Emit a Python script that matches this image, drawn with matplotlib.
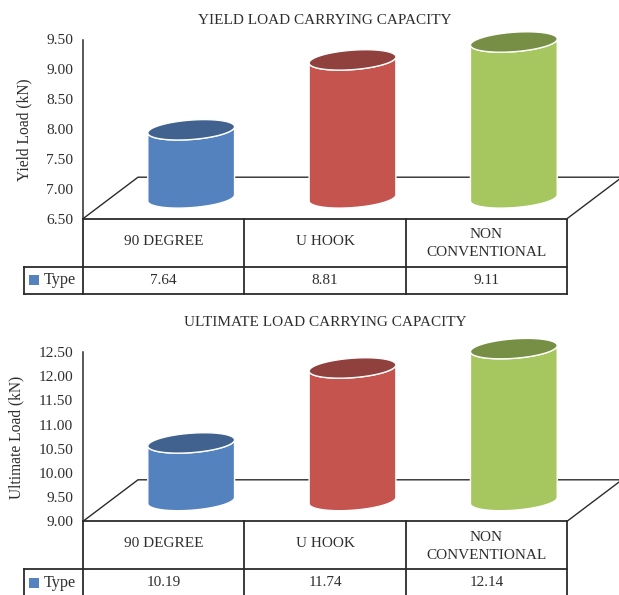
import numpy as np
import matplotlib
matplotlib.use('Agg')
import matplotlib.pyplot as plt
from matplotlib.patches import Polygon

plt.rcParams['font.family'] = ['Liberation Serif', 'DejaVu Serif']

# ── Data ──────────────────────────────────────────────────
types        = ['90 DEGREE', 'U HOOK', 'NON\nCONVENTIONAL']
yield_load   = [7.64, 8.81, 9.11]
ult_load     = [10.19, 11.74, 12.14]
yield_ticks  = [6.5, 7.0, 7.5, 8.0, 8.5, 9.0, 9.5]
ult_ticks    = [9.0, 9.5, 10.0, 10.5, 11.0, 11.5, 12.0, 12.5]

side_colors = ['#5482BE', '#C5544F', '#A6C660']
top_colors  = ['#41628F', '#90403D', '#778F45']
INK  = '#2e2e2e'
LINE = '#2b2b2b'

W, H = 619, 595
fig = plt.figure(figsize=(W / 100, H / 100), dpi=100)

# cylinder / floor geometry, pixels
FLOOR_DX, FLOOR_DY = 55, 41.5
BASE_DX, BASE_DY   = 27.5, 20.8
RX, RY, TILT       = 43.5, 9.7, np.radians(4.3)
LEFT, RIGHT        = 83, 567
ROW1, ROW2         = 48, 75
CELL_LEFT          = 24


def ellipse_pts(cx, cy, sx, sy, t):
    # tilted ellipse around a data point, radii given in pixels
    px = RX * np.cos(t) * np.cos(TILT) - RY * np.sin(t) * np.sin(TILT)
    py = RX * np.cos(t) * np.sin(TILT) + RY * np.sin(t) * np.cos(TILT)
    return np.column_stack([cx + px / sx, cy + py / sy])


def draw_chart(values, ticks, top_px, bottom_px, title, title_y, ylabel, label_x, label_y):
    ax = fig.add_axes([LEFT / W, 1 - bottom_px / H,
                       (RIGHT - LEFT) / W, (bottom_px - top_px) / H])
    ax.set_xlim(-0.5, 2.5)
    ax.set_ylim(ticks[0], ticks[-1])
    ax.patch.set_alpha(0)
    for s in ['top', 'right', 'bottom']:
        ax.spines[s].set_visible(False)
    ax.spines['left'].set_color(LINE)
    ax.spines['left'].set_linewidth(1.1)
    ax.set_xticks([])
    ax.set_yticks(ticks)
    ax.set_yticklabels([f'{t:.2f}' for t in ticks], fontsize=11.1, color=INK)
    ax.tick_params(axis='y', length=0, pad=7)

    sx = (RIGHT - LEFT) / 3                  # pixels per category
    sy = (bottom_px - top_px) / (ticks[-1] - ticks[0])  # pixels per kN
    y0 = ticks[0]

    # floor outline
    back = y0 + FLOOR_DY / sy
    ax.plot([-0.5, -0.5 + FLOOR_DX / sx, 2.5 + FLOOR_DX / sx, 2.5],
            [y0, back, back, y0], color=LINE, lw=1.0, clip_on=False, zorder=1)

    # cylinders stand on the floor, so the value scale is lifted by the base offset
    t_low = np.linspace(np.pi, 2 * np.pi, 60)
    t_all = np.linspace(0, 2 * np.pi, 120)
    lift = BASE_DY / sy
    for i, v in enumerate(values):
        cx = i + BASE_DX / sx
        low = ellipse_pts(cx, y0 + lift, sx, sy, t_low)
        up = ellipse_pts(cx, v + lift, sx, sy, t_low)
        body = np.vstack([low, up[::-1]])
        ax.add_patch(Polygon(body, closed=True, fc=side_colors[i], ec='white',
                             lw=1.0, clip_on=False, zorder=3))
        ax.add_patch(Polygon(ellipse_pts(cx, v + lift, sx, sy, t_all), closed=True,
                             fc=top_colors[i], ec='white', lw=1.0,
                             clip_on=False, zorder=4))

    # data table below the plot
    tr = ax.get_xaxis_transform()
    h = bottom_px - top_px
    r1, r2 = -ROW1 / h, -ROW2 / h
    xl = -0.5 + (CELL_LEFT - LEFT) / sx
    ax.plot([-0.5, 2.5], [0, 0], transform=tr, color=LINE, lw=1.3, clip_on=False)
    ax.plot([xl, 2.5], [r1, r1], transform=tr, color=LINE, lw=1.3, clip_on=False)
    ax.plot([xl, 2.5], [r2, r2], transform=tr, color=LINE, lw=1.3, clip_on=False)
    ax.plot([xl, xl], [r1, r2], transform=tr, color=LINE, lw=1.3, clip_on=False)
    for x in [-0.5, 0.5, 1.5, 2.5]:
        ax.plot([x, x], [0, r2], transform=tr, color=LINE, lw=1.3, clip_on=False)

    for i, (name, v) in enumerate(zip(types, values)):
        name_y = -25 if '\n' in name else -22.5
        ax.text(i, name_y / h, name, transform=tr, ha='center', va='center',
                fontsize=11, color=INK, linespacing=1.45, clip_on=False)
        ax.text(i, -61.5 / h, f'{v:.2f}', transform=tr, ha='center', va='center',
                fontsize=11, color=INK, clip_on=False)

    # legend key in the table's first column
    ax.add_patch(plt.Rectangle((-0.5 + (29 - LEFT) / sx, -66.5 / h), 10 / sx, 10 / h,
                               transform=tr, fc=side_colors[0], ec='none', clip_on=False))
    ax.text(-0.5 + (44 - LEFT) / sx, -61.5 / h, 'Type', transform=tr, ha='left',
            va='center', fontsize=11.6, color=INK, clip_on=False)

    fig.text(325 / W, 1 - title_y / H, title, ha='center', va='center',
             fontsize=11, color=INK)
    fig.text(label_x / W, 1 - label_y / H, ylabel, rotation=90, ha='center',
             va='center', fontsize=11.2, color=INK)


draw_chart(yield_load, yield_ticks, 39.5, 218.7, 'YIELD LOAD CARRYING CAPACITY', 20,
           'Yield Load (kN)', 24.5, 130)
draw_chart(ult_load, ult_ticks, 352, 521.3, 'ULTIMATE LOAD CARRYING CAPACITY', 322,
           'Ultimate Load (kN)', 16.5, 437)

fig.savefig('out.png', dpi=100)
